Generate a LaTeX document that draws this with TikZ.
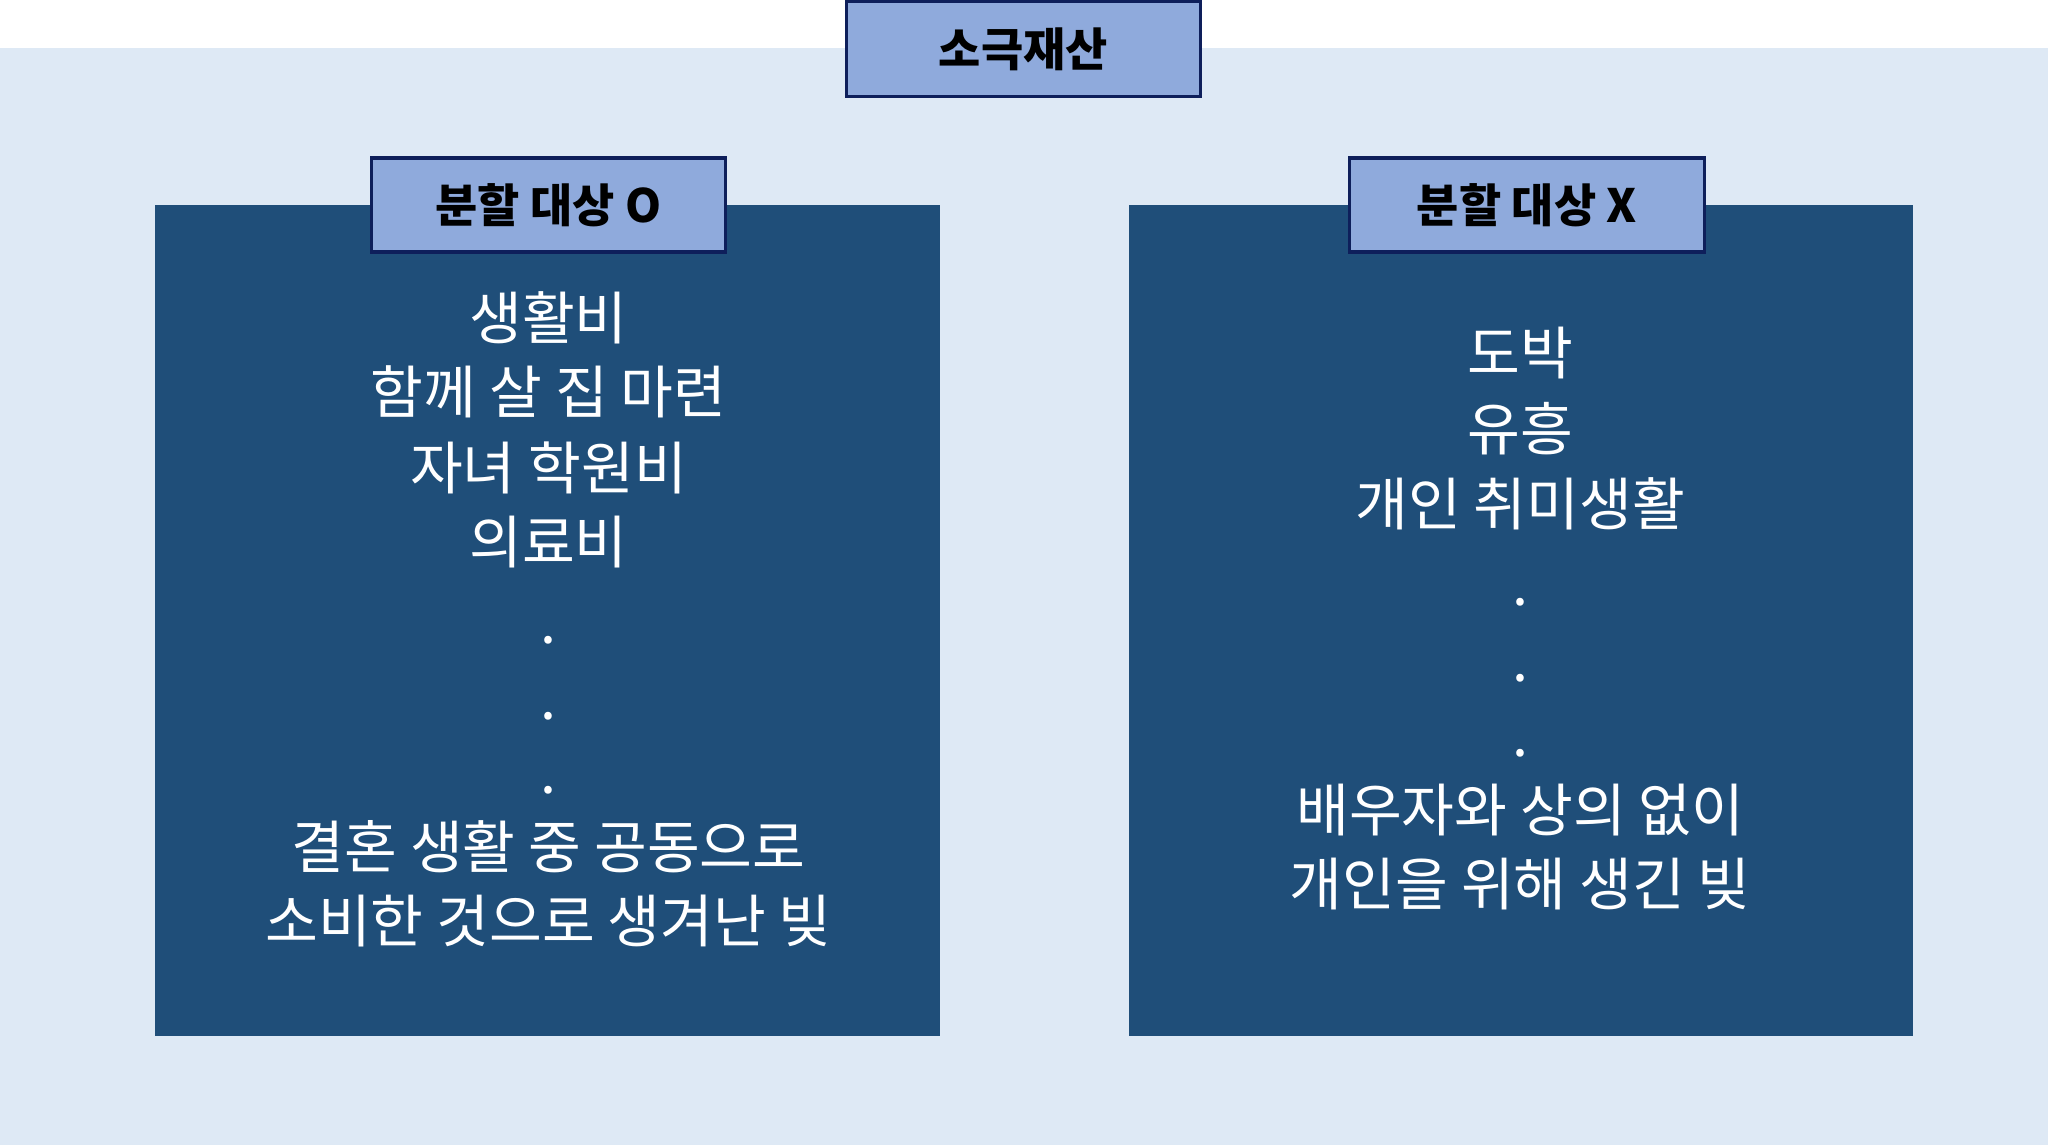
\documentclass[tikz,border=0pt]{standalone}
\usepackage{fontspec}
\setmainfont{Noto Sans CJK KR}
\definecolor{bgblue}{HTML}{DEE9F5}
\definecolor{darkbox}{HTML}{1F4E79}
\definecolor{labfill}{HTML}{8FAADC}
\definecolor{labline}{HTML}{0E1F5B}
\begin{document}
\begin{tikzpicture}[x=0.02cm,y=-0.02cm,
  lab/.style={draw=labline,line width=1.5pt,fill=labfill,font=\fontsize{20}{24}\selectfont\bfseries,inner sep=0pt},
  body/.style={text=white,font=\fontsize{25}{29}\selectfont,inner sep=0pt,anchor=center}]
\useasboundingbox (0,0) rectangle (1568,877);
\fill[white] (0,0) rectangle (1568,877);
\fill[bgblue] (0,37) rectangle (1568,877);
\node[lab,minimum width=271*0.02cm,minimum height=73*0.02cm] (top) at (783.5,37.5) {소극재산};
\fill[darkbox] (119,157) rectangle (720,793);
\fill[darkbox] (864,157) rectangle (1465,793);
\coordinate (L) at (420,0);
\coordinate (R) at (1164,0);
\node[lab,minimum width=271*0.02cm,minimum height=72*0.02cm] (lo) at (420,157) {분할 대상 O};
\node[lab,minimum width=272*0.02cm,minimum height=72*0.02cm] (lx) at (1169,157) {분할 대상 X};
\node[body] (l1) at (420,243) {생활비};
\node[body] (l2) at (420,300) {함께 살 집 마련};
\node[body] (l3) at (420,358) {자녀 학원비};
\node[body] (l4) at (420,415) {의료비};
\node[body] (ld1) at (420,490) {.};
\node[body] (ld2) at (420,548) {.};
\node[body] (ld3) at (420,605) {.};
\node[body] (l5) at (420,648) {결혼 생활 중 공동으로};
\node[body] (l6) at (420,705) {소비한 것으로 생겨난 빚};
\node[body] (r1) at (1164,270) {도박};
\node[body] (r2) at (1164,328) {유흥};
\node[body] (r3) at (1164,386) {개인 취미생활};
\node[body] (rd1) at (1164,461) {.};
\node[body] (rd2) at (1164,519) {.};
\node[body] (rd3) at (1164,577) {.};
\node[body] (r4) at (1164,620) {배우자와 상의 없이};
\node[body] (r5) at (1164,677) {개인을 위해 생긴 빚};
\end{tikzpicture}
\end{document}
